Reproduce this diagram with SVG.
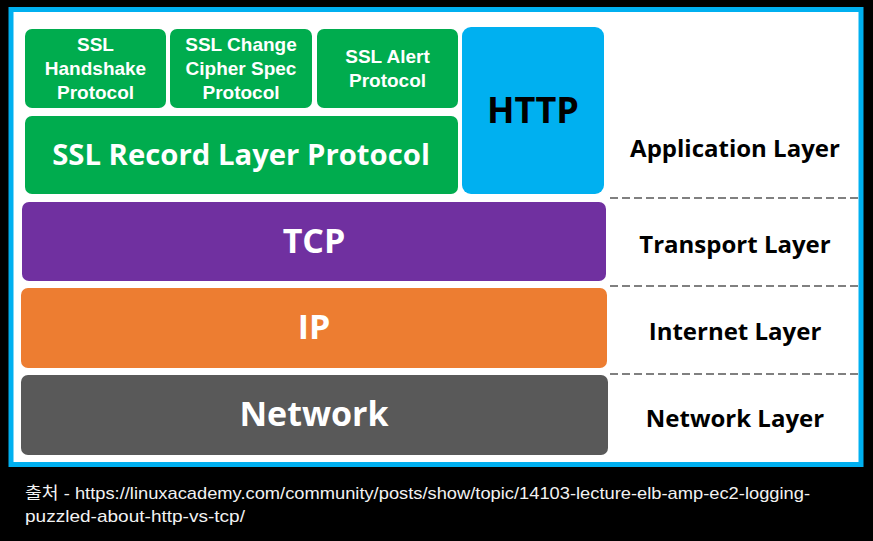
<svg xmlns="http://www.w3.org/2000/svg" width="873" height="541" viewBox="0 0 873 541">
<style>
.box{stroke:none}
.w{fill:#fff;font-family:"Open Sans","Noto Sans",sans-serif;font-weight:bold;text-anchor:middle}
.k{fill:#000;font-family:"Open Sans","Noto Sans",sans-serif;font-weight:bold;text-anchor:middle}
.sm{font-family:"Liberation Sans",Arial,sans-serif;font-size:19px}
.big{font-size:34px}
.lay{font-size:24px}
.dash{stroke:#808080;stroke-width:2;stroke-dasharray:8,4;fill:none}
.cap{fill:#f2f2f2;font-family:"Liberation Sans Narrow","Liberation Sans","Noto Sans CJK KR",sans-serif;font-size:17px}
</style>
<rect x="0" y="0" width="873" height="541" fill="#000"/>
<rect x="11" y="9.5" width="850" height="455" fill="#fff" stroke="#00B0F0" stroke-width="5"/>
<g id="ssl-handshake"><rect class="box" x="25" y="29" width="141" height="79" rx="7" fill="#00AC4E"/>
<text class="w sm"><tspan x="95.5" y="51">SSL</tspan><tspan x="95.5" y="75">Handshake</tspan><tspan x="95.5" y="99">Protocol</tspan></text></g>
<g id="ssl-change-cipher"><rect class="box" x="170" y="29" width="142" height="79" rx="7" fill="#00AC4E"/>
<text class="w sm"><tspan x="241" y="51">SSL Change</tspan><tspan x="241" y="75">Cipher Spec</tspan><tspan x="241" y="99">Protocol</tspan></text></g>
<g id="ssl-alert"><rect class="box" x="317" y="29" width="141" height="79" rx="7" fill="#00AC4E"/>
<text class="w sm"><tspan x="387.5" y="63">SSL Alert</tspan><tspan x="387.5" y="87">Protocol</tspan></text></g>
<g id="ssl-record"><rect class="box" x="25" y="116" width="433" height="78" rx="7" fill="#00AC4E"/>
<text class="w" x="241" y="165" font-size="29.3">SSL Record Layer Protocol</text></g>
<g id="http"><rect class="box" x="462" y="27" width="142" height="167" rx="9" fill="#00B0F0"/>
<text class="k" x="533" y="123" font-size="36">HTTP</text></g>
<g id="tcp"><rect class="box" x="22" y="202" width="584" height="79" rx="7" fill="#7030A0"/>
<text class="w big" x="314" y="253">TCP</text></g>
<g id="ip"><rect class="box" x="21" y="288" width="586" height="80" rx="7" fill="#ED7D31"/>
<text class="w big" x="314" y="339">IP</text></g>
<g id="network"><rect class="box" x="21" y="375" width="587" height="80" rx="7" fill="#595959"/>
<text class="w big" x="314" y="426">Network</text></g>
<g id="connectors">
<line class="dash" x1="610" y1="198" x2="859" y2="198"/>
<line class="dash" x1="610" y1="286" x2="859" y2="286"/>
<line class="dash" x1="610" y1="374" x2="859" y2="374"/>
</g>
<g id="layer-labels">
<text class="k lay" x="735" y="157">Application Layer</text>
<text class="k lay" x="735" y="253">Transport Layer</text>
<text class="k lay" x="735" y="340">Internet Layer</text>
<text class="k lay" x="735" y="427">Network Layer</text>
</g>
<g id="caption">
<text class="cap" x="25" y="499" textLength="785" lengthAdjust="spacingAndGlyphs">출처 - https://linuxacademy.com/community/posts/show/topic/14103-lecture-elb-amp-ec2-logging-</text>
<text class="cap" x="25" y="522" textLength="220" lengthAdjust="spacingAndGlyphs">puzzled-about-http-vs-tcp/</text>
</g>
</svg>
